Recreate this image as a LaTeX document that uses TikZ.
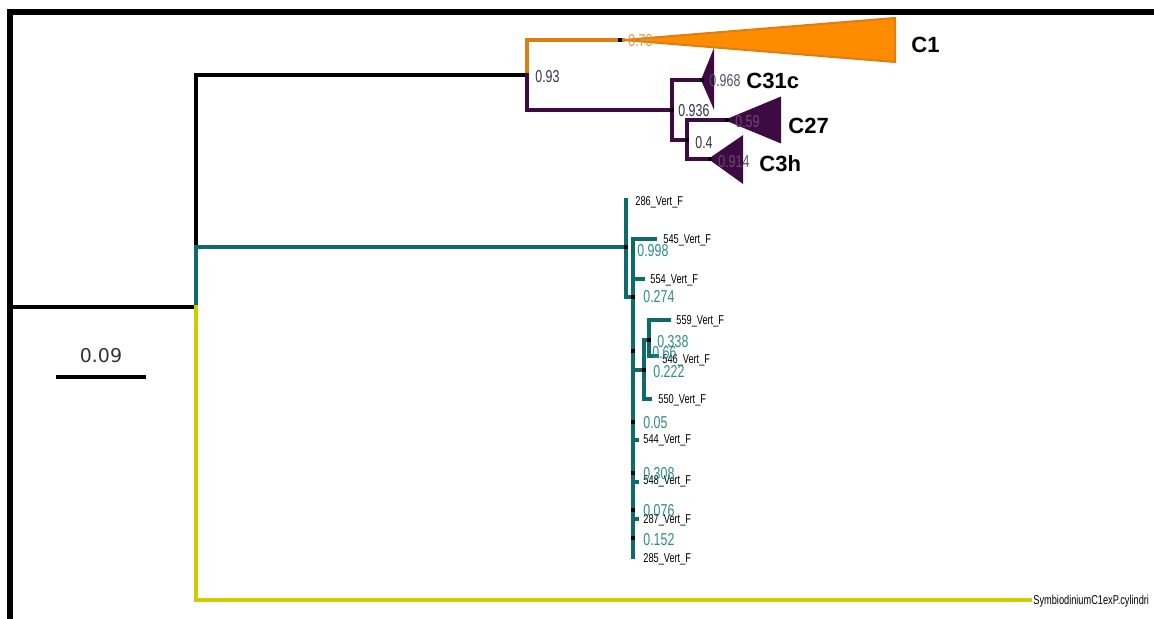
\documentclass[tikz,border=0pt]{standalone}
\usepackage{fontspec}
\setmainfont{Liberation Sans}
\newfontfamily\leaffont[FakeStretch=0.72]{Liberation Sans}
\newfontfamily\barfont{DejaVu Sans}
\definecolor{brOrange}{HTML}{DE7D10}
\definecolor{fillOrange}{HTML}{FF8C00}
\definecolor{brPurple}{HTML}{3D0A42}
\definecolor{brTeal}{HTML}{0E6B6B}
\definecolor{txtTeal}{HTML}{2F8A8C}
\definecolor{brYellow}{HTML}{CCCC00}
\definecolor{txtGrey}{HTML}{33334A}

\begin{document}
\begin{tikzpicture}[x=0.5pt,y=-0.5pt]
\tikzset{
  branch/.style={line width=2pt,line cap=rect},
  nodedot/.style={rectangle,fill=black,inner sep=0pt,minimum size=2pt},
  leaflabel/.style={anchor=west,inner sep=0pt,font=\leaffont\fontsize{6.4}{7}\selectfont},
  support/.style={anchor=west,inner sep=0pt,font=\leaffont\fontsize{8.6}{9}\selectfont},
  cladelabel/.style={anchor=west,inner sep=0pt,font=\bfseries\fontsize{11}{12}\selectfont},
  collapsed/.style={line width=1pt,line join=miter}
}
\useasboundingbox (0,0) rectangle (1154,619);
\clip (0,0) rectangle (1154,619);
\draw[line width=2.6pt] (10,625) -- (10,12) -- (1160,12);

% backbone
\coordinate (n_base) at (10,307);
\coordinate (n_root) at (196,307);
\coordinate (n_top) at (527,75);
\coordinate (n_teal) at (626,247);
\coordinate (l_sym) at (1030,600);
\draw[branch] (n_base) -- (n_root);
\draw[branch] (n_root) |- (n_top);
\draw[branch,brTeal] (n_root) |- (n_teal);
\draw[branch,brYellow] (n_root) |- (l_sym);
\node[leaflabel] (t_sym) at (1033,601) {SymbiodiniumC1exP.cylindri};

% collapsed clades
\coordinate (c_C1) at (623,40);
\coordinate (n_pur) at (672,110);
\coordinate (c_C31c) at (702,80);
\coordinate (n_sub) at (687,140);
\coordinate (c_C27) at (727,120);
\coordinate (c_C3h) at (710,159);
\draw[branch,brOrange] (n_top) |- (c_C1);
\draw[branch,brPurple] (n_top) |- (n_pur);
\draw[branch,brPurple] (n_pur) |- (c_C31c);
\draw[branch,brPurple] (n_pur) |- (n_sub);
\draw[branch,brPurple] (n_sub) |- (c_C27);
\draw[branch,brPurple] (n_sub) |- (c_C3h);
\filldraw[collapsed,draw=brOrange,fill=fillOrange] (c_C1) -- ++(272,-22) -- ++(0,44) -- cycle;
\filldraw[collapsed,brPurple] (c_C31c) -- ++(11,-27) -- ++(0,52) -- cycle;
\filldraw[collapsed,brPurple] (c_C27) -- ++(53,-22) -- ++(0,44) -- cycle;
\filldraw[collapsed,brPurple] (c_C3h) -- ++(32,-22) -- ++(0,45) -- cycle;
\node[nodedot] at (620,40) {};
\node[nodedot] at (c_C31c) {};
\node[nodedot] at (n_pur) {};
\node[nodedot] at (n_sub) {};
\node[nodedot] at (c_C27) {};
\node[nodedot] at (c_C3h) {};
\node[support,txtGrey] (s_top) at (535,77) {0.93};
\node[support,brOrange!80] (s_C1) at (628,41) {0.78};
\node[support,txtGrey!85] (s_C31c) at (709,81) {0.968};
\node[support,txtGrey] (s_pur) at (678,111) {0.936};
\node[support,brPurple!75!white] (s_C27) at (735,122) {0.59};
\node[support,txtGrey] (s_sub) at (695,143) {0.4};
\node[support,brPurple!75!white] (s_C3h) at (718,162) {0.914};
\node[cladelabel] (C1) at (911,45) {C1};
\node[cladelabel] (C31c) at (746,81) {C31c};
\node[cladelabel] (C27) at (788,126) {C27};
\node[cladelabel] (C3h) at (759,164) {C3h};

% Vert_F clade
\coordinate (l_286) at (626,200);
\coordinate (n_t2) at (633,297);
\coordinate (l_545) at (655,239);
\coordinate (l_554) at (643,279);
\coordinate (n_s1) at (644,370);
\coordinate (n_s2) at (649,340);
\coordinate (l_559) at (669,320);
\coordinate (l_546) at (657,356);
\coordinate (l_550) at (650,399);
\coordinate (l_544) at (637,440);
\coordinate (l_548) at (637,482);
\coordinate (l_287) at (637,519);
\coordinate (l_285) at (633,557);
\draw[branch,brTeal] (n_teal) |- (l_286);
\draw[branch,brTeal] (n_teal) |- (n_t2);
\draw[branch,brTeal] (n_t2) |- (l_545);
\draw[branch,brTeal] (n_t2) |- (l_554);
\draw[branch,brTeal] (n_t2) |- (n_s1);
\draw[branch,brTeal] (n_t2) |- (l_544);
\draw[branch,brTeal] (n_t2) |- (l_548);
\draw[branch,brTeal] (n_t2) |- (l_287);
\draw[branch,brTeal] (n_t2) |- (l_285);
\draw[branch,brTeal] (n_s1) |- (n_s2);
\draw[branch,brTeal] (n_s1) |- (l_550);
\draw[branch,brTeal] (n_s2) |- (l_559);
\draw[branch,brTeal] (n_s2) |- (l_546);
\node[nodedot] at (n_teal) {};
\node[nodedot] at (n_t2) {};
\node[nodedot] at (n_s1) {};
\node[nodedot] at (n_s2) {};
\foreach \y in {351,422,473,510,538} {
  \node[nodedot] at (633,\y) {};
}
\node[leaflabel] (t_286) at (635,202) {286\_Vert\_F};
\node[leaflabel] (t_545) at (663,240) {545\_Vert\_F};
\node[leaflabel] (t_554) at (650,280) {554\_Vert\_F};
\node[leaflabel] (t_559) at (676,321) {559\_Vert\_F};
\node[leaflabel] (t_546) at (662,360) {546\_Vert\_F};
\node[leaflabel] (t_550) at (658,400) {550\_Vert\_F};
\node[leaflabel] (t_544) at (643,440) {544\_Vert\_F};
\node[leaflabel] (t_548) at (643,481) {548\_Vert\_F};
\node[leaflabel] (t_287) at (643,520) {287\_Vert\_F};
\node[leaflabel] (t_285) at (643,559) {285\_Vert\_F};
\node[support,txtTeal] (s_t1) at (637,251) {0.998};
\node[support,txtTeal] (s_t2) at (643,297) {0.274};
\node[support,txtTeal] (s_s2) at (657,342) {0.338};
\node[support,txtTeal] (s_d1) at (652,353) {0.66};
\node[support,txtTeal] (s_s1) at (653,372) {0.222};
\node[support,txtTeal] (s_d2) at (643,423) {0.05};
\node[support,txtTeal] (s_d3) at (643,474) {0.308};
\node[support,txtTeal] (s_d4) at (643,511) {0.076};
\node[support,txtTeal] (s_d5) at (643,540) {0.152};

% scale bar
\coordinate (sb_l) at (56,377);
\coordinate (sb_r) at (146,377);
\draw[line width=2pt] (sb_l) -- (sb_r) node[midway,above=3pt,font=\barfont\fontsize{9.5}{10}\selectfont,text=black!80] {0.09};
\end{tikzpicture}
\end{document}
